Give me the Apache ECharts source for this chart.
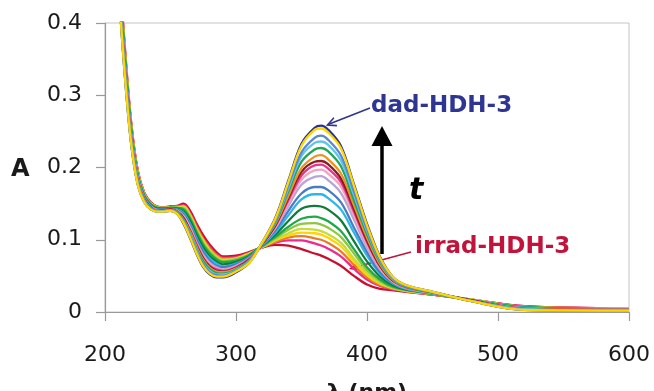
<!DOCTYPE html>
<html>
<head>
<meta charset="utf-8">
<script src="https://cdn.jsdelivr.net/npm/echarts@6.0.0/dist/echarts.min.js"></script>
<style>
  html, body { margin: 0; padding: 0; background: #fff; }
  #chart { width: 654px; height: 391px; }
</style>
</head>
<body>
<div id="chart"></div>
<script>
// wavelength grid (nm) shared by every spectrum
const wavelengths = [205, 210, 215, 220, 225, 230, 235, 240, 245, 250, 255, 260, 265, 270, 275, 280, 285, 290, 300, 310, 318, 330, 340, 350, 360, 365, 370, 380, 390, 400, 410, 420, 430, 450, 480, 520, 600];

// absorbance spectra, first (irrad-HDH-3) to last (dad-HDH-3)
const absIrrad = [0.66, 0.50, 0.37, 0.262, 0.196, 0.165, 0.152, 0.146, 0.145, 0.146, 0.147, 0.150, 0.140, 0.122, 0.106, 0.093, 0.083, 0.077, 0.078, 0.083, 0.088, 0.093, 0.092, 0.087, 0.081, 0.078, 0.074, 0.064, 0.050, 0.038, 0.032, 0.030, 0.028, 0.024, 0.017, 0.008, 0.005];
const abs02 = [0.657, 0.497, 0.367, 0.260, 0.194, 0.164, 0.151, 0.145, 0.145, 0.146, 0.146, 0.148, 0.137, 0.119, 0.102, 0.090, 0.080, 0.075, 0.076, 0.082, 0.088, 0.096, 0.099, 0.099, 0.095, 0.092, 0.088, 0.077, 0.060, 0.045, 0.036, 0.031, 0.029, 0.024, 0.017, 0.008, 0.005];
const abs03 = [0.655, 0.495, 0.365, 0.258, 0.194, 0.163, 0.151, 0.145, 0.144, 0.145, 0.146, 0.147, 0.135, 0.117, 0.101, 0.088, 0.079, 0.074, 0.075, 0.081, 0.088, 0.097, 0.103, 0.105, 0.102, 0.100, 0.096, 0.084, 0.065, 0.048, 0.037, 0.032, 0.029, 0.024, 0.017, 0.007, 0.005];
const abs04 = [0.654, 0.494, 0.364, 0.257, 0.193, 0.163, 0.150, 0.145, 0.144, 0.145, 0.145, 0.146, 0.134, 0.115, 0.099, 0.086, 0.077, 0.072, 0.074, 0.081, 0.088, 0.099, 0.106, 0.110, 0.109, 0.107, 0.103, 0.091, 0.070, 0.051, 0.039, 0.033, 0.029, 0.025, 0.017, 0.007, 0.005];
const abs05 = [0.652, 0.492, 0.362, 0.256, 0.192, 0.163, 0.150, 0.145, 0.144, 0.145, 0.145, 0.145, 0.133, 0.114, 0.098, 0.085, 0.076, 0.072, 0.074, 0.080, 0.088, 0.100, 0.109, 0.115, 0.114, 0.112, 0.108, 0.096, 0.074, 0.054, 0.040, 0.033, 0.030, 0.025, 0.017, 0.007, 0.004];
const abs06 = [0.650, 0.490, 0.360, 0.255, 0.191, 0.162, 0.150, 0.144, 0.144, 0.145, 0.144, 0.143, 0.131, 0.112, 0.095, 0.083, 0.075, 0.070, 0.073, 0.079, 0.088, 0.102, 0.114, 0.122, 0.123, 0.121, 0.117, 0.104, 0.081, 0.058, 0.043, 0.034, 0.030, 0.025, 0.017, 0.007, 0.004];
const abs07 = [0.648, 0.488, 0.358, 0.253, 0.190, 0.161, 0.149, 0.144, 0.143, 0.144, 0.144, 0.142, 0.129, 0.110, 0.093, 0.081, 0.073, 0.069, 0.071, 0.079, 0.089, 0.104, 0.118, 0.129, 0.132, 0.130, 0.126, 0.112, 0.087, 0.062, 0.045, 0.035, 0.031, 0.025, 0.016, 0.007, 0.004];
const abs08 = [0.645, 0.485, 0.355, 0.251, 0.188, 0.160, 0.148, 0.143, 0.143, 0.144, 0.143, 0.139, 0.126, 0.106, 0.089, 0.077, 0.070, 0.066, 0.069, 0.077, 0.089, 0.107, 0.126, 0.143, 0.147, 0.146, 0.142, 0.127, 0.098, 0.070, 0.049, 0.037, 0.031, 0.026, 0.016, 0.006, 0.004];
const abs09 = [0.641, 0.481, 0.351, 0.248, 0.187, 0.159, 0.147, 0.142, 0.142, 0.143, 0.142, 0.137, 0.122, 0.102, 0.085, 0.074, 0.067, 0.063, 0.067, 0.076, 0.089, 0.110, 0.134, 0.156, 0.163, 0.163, 0.158, 0.142, 0.110, 0.078, 0.053, 0.039, 0.032, 0.026, 0.016, 0.006, 0.004];
const abs10 = [0.639, 0.479, 0.349, 0.246, 0.185, 0.158, 0.147, 0.142, 0.142, 0.143, 0.141, 0.135, 0.120, 0.100, 0.083, 0.071, 0.064, 0.062, 0.066, 0.075, 0.089, 0.113, 0.140, 0.164, 0.173, 0.173, 0.169, 0.152, 0.117, 0.083, 0.055, 0.040, 0.033, 0.026, 0.016, 0.005, 0.003];
const abs11 = [0.636, 0.476, 0.346, 0.244, 0.184, 0.157, 0.146, 0.141, 0.141, 0.142, 0.140, 0.133, 0.117, 0.096, 0.079, 0.068, 0.062, 0.059, 0.064, 0.074, 0.089, 0.116, 0.147, 0.176, 0.187, 0.188, 0.183, 0.165, 0.128, 0.089, 0.059, 0.041, 0.033, 0.026, 0.016, 0.005, 0.003];
const abs12 = [0.634, 0.474, 0.344, 0.242, 0.183, 0.156, 0.145, 0.141, 0.141, 0.142, 0.140, 0.132, 0.115, 0.094, 0.077, 0.066, 0.060, 0.058, 0.063, 0.073, 0.089, 0.117, 0.151, 0.183, 0.196, 0.197, 0.192, 0.174, 0.134, 0.093, 0.061, 0.042, 0.034, 0.027, 0.016, 0.005, 0.003];
const abs13 = [0.632, 0.472, 0.342, 0.241, 0.182, 0.156, 0.145, 0.140, 0.141, 0.142, 0.139, 0.130, 0.113, 0.093, 0.075, 0.064, 0.059, 0.057, 0.062, 0.073, 0.089, 0.119, 0.155, 0.189, 0.203, 0.204, 0.199, 0.180, 0.139, 0.097, 0.063, 0.043, 0.034, 0.027, 0.016, 0.005, 0.003];
const abs14 = [0.631, 0.471, 0.341, 0.240, 0.181, 0.156, 0.145, 0.140, 0.141, 0.142, 0.139, 0.130, 0.112, 0.091, 0.074, 0.063, 0.057, 0.056, 0.061, 0.072, 0.089, 0.120, 0.158, 0.194, 0.208, 0.209, 0.205, 0.185, 0.143, 0.099, 0.064, 0.043, 0.035, 0.027, 0.016, 0.004, 0.003];
const abs15 = [0.629, 0.469, 0.339, 0.239, 0.181, 0.155, 0.144, 0.140, 0.140, 0.141, 0.139, 0.128, 0.111, 0.090, 0.072, 0.061, 0.056, 0.055, 0.060, 0.071, 0.090, 0.122, 0.161, 0.199, 0.215, 0.217, 0.212, 0.192, 0.148, 0.103, 0.066, 0.044, 0.035, 0.027, 0.015, 0.004, 0.003];
const abs16 = [0.627, 0.467, 0.337, 0.237, 0.179, 0.154, 0.144, 0.139, 0.140, 0.141, 0.138, 0.127, 0.108, 0.087, 0.070, 0.059, 0.054, 0.053, 0.059, 0.071, 0.090, 0.124, 0.167, 0.208, 0.225, 0.227, 0.223, 0.202, 0.155, 0.108, 0.069, 0.045, 0.035, 0.027, 0.015, 0.004, 0.002];
const abs17 = [0.625, 0.465, 0.335, 0.236, 0.178, 0.154, 0.143, 0.139, 0.140, 0.141, 0.137, 0.125, 0.107, 0.085, 0.067, 0.057, 0.052, 0.052, 0.058, 0.070, 0.090, 0.126, 0.171, 0.216, 0.234, 0.236, 0.232, 0.210, 0.162, 0.112, 0.071, 0.046, 0.036, 0.028, 0.015, 0.004, 0.002];
const abs18 = [0.623, 0.463, 0.333, 0.234, 0.178, 0.153, 0.143, 0.139, 0.139, 0.140, 0.137, 0.124, 0.105, 0.083, 0.066, 0.055, 0.051, 0.050, 0.057, 0.069, 0.090, 0.127, 0.175, 0.221, 0.241, 0.244, 0.239, 0.217, 0.167, 0.115, 0.072, 0.047, 0.036, 0.028, 0.015, 0.003, 0.002];
const abs19 = [0.621, 0.461, 0.331, 0.233, 0.176, 0.152, 0.142, 0.139, 0.139, 0.140, 0.136, 0.123, 0.103, 0.081, 0.063, 0.053, 0.049, 0.049, 0.056, 0.068, 0.090, 0.129, 0.180, 0.230, 0.252, 0.254, 0.249, 0.227, 0.175, 0.120, 0.075, 0.048, 0.037, 0.028, 0.015, 0.003, 0.002];
const absDad = [0.62, 0.46, 0.33, 0.232, 0.176, 0.152, 0.142, 0.139, 0.139, 0.140, 0.136, 0.122, 0.102, 0.080, 0.062, 0.052, 0.048, 0.048, 0.055, 0.068, 0.090, 0.130, 0.182, 0.233, 0.255, 0.258, 0.253, 0.230, 0.177, 0.122, 0.076, 0.048, 0.037, 0.028, 0.015, 0.003, 0.002];

const spectra = [absIrrad, abs02, abs03, abs04, abs05, abs06, abs07, abs08, abs09, abs10,
  abs11, abs12, abs13, abs14, abs15, abs16, abs17, abs18, abs19, absDad];

const lineColors = ["#C8102E", "#EE2A8C", "#E97A2A", "#FFD400", "#C5DC3A", "#8DC63F", "#21A84A", "#0F7B3A", "#2CB6EA", "#4A7CC2",
  "#B7A5D6", "#F3A3BE", "#E6338B", "#8A1C22", "#EA9427", "#1FA65A", "#62C4EA", "#5B87D4", "#FFD700", "#2B3391"];

const xMin = 200, xMax = 600, xStep = 100;
const yMin = 0, yMax = 0.4, yStep = 0.1;

const FONT = "DejaVu Sans";
const chart = echarts.init(document.getElementById("chart"));

function toPoints(values) {
  return wavelengths.map((w, i) => [w, values[i]]);
}

// dad spectrum goes first so the yellow one is painted over it (navy rim)
const drawOrder = [19, 0, 1, 2, 3, 4, 5, 6, 7, 8, 9, 10, 11, 12, 13, 14, 15, 16, 17, 18];

const series = drawOrder.map((i) => ({
  type: "line",
  data: toPoints(spectra[i]),
  smooth: 0.35,
  showSymbol: false,
  clip: true,
  silent: true,
  lineStyle: { color: lineColors[i], width: 2.3 },
}));

const axisGray = "#9a9a9a";

chart.setOption({
  animation: false,
  backgroundColor: "#fff",
  grid: {
    left: 105, right: 25, top: 23, bottom: 79,
    show: true, borderColor: "#c4c4c4", borderWidth: 1,
    outerBoundsMode: "none",
  },
  xAxis: {
    type: "value",
    min: xMin, max: xMax, interval: xStep,
    axisLine: { show: true, lineStyle: { color: axisGray, width: 1.2 } },
    axisTick: { show: true, length: 9, lineStyle: { color: axisGray, width: 1.2 } },
    axisLabel: { fontFamily: FONT, fontSize: 22, color: "#1a1a1a", margin: 32 },
    splitLine: { show: false },
    name: "λ (nm)",
    nameLocation: "middle",
    nameGap: 70,
    nameTextStyle: { fontFamily: FONT, fontSize: 22, fontWeight: "bold", color: "#1a1a1a" },
  },
  yAxis: {
    type: "value",
    min: yMin, max: yMax, interval: yStep,
    axisLine: { show: true, lineStyle: { color: axisGray, width: 1.2 } },
    axisTick: { show: true, length: 9, lineStyle: { color: axisGray, width: 1.2 } },
    axisLabel: { fontFamily: FONT, fontSize: 22, color: "#1a1a1a", margin: 23 },
    splitLine: { show: false },
  },
  series: series,
  graphic: [
    { type: "text", left: 11, top: 158, style: { text: "A", font: "bold 24px " + FONT, fill: "#1a1a1a" } },
    // dad label and its pointer
    { type: "text", left: 371, top: 95, style: { text: "dad-HDH-3", font: "bold 23px " + FONT, fill: "#2E3592" } },
    { type: "line", shape: { x1: 370, y1: 108, x2: 328, y2: 124.5 }, style: { stroke: "#2E3592", lineWidth: 1.6 } },
    { type: "polyline", shape: { points: [[336.9, 125.6], [327.5, 125], [333.9, 117.8]] }, style: { stroke: "#2E3592", lineWidth: 1.6, fill: null } },
    // irrad label and its pointer
    { type: "text", left: 415, top: 236, style: { text: "irrad-HDH-3", font: "bold 23px " + FONT, fill: "#C0143C" } },
    { type: "line", shape: { x1: 411, y1: 252, x2: 352, y2: 268 }, style: { stroke: "#C0143C", lineWidth: 1.6 } },
    { type: "polygon", shape: { points: [[349, 269], [357.6, 270.5], [355.8, 263.3]] }, style: { fill: "#C0143C" } },
    // time arrow
    { type: "line", shape: { x1: 382, y1: 254, x2: 382, y2: 142 }, style: { stroke: "#000", lineWidth: 3.5 } },
    { type: "polygon", shape: { points: [[382, 126], [392.5, 146], [371.5, 146]] }, style: { fill: "#000" } },
    { type: "text", left: 409, top: 176, style: { text: "t", font: "italic bold 30px " + FONT, fill: "#000" } },
  ],
});
</script>
</body>
</html>
